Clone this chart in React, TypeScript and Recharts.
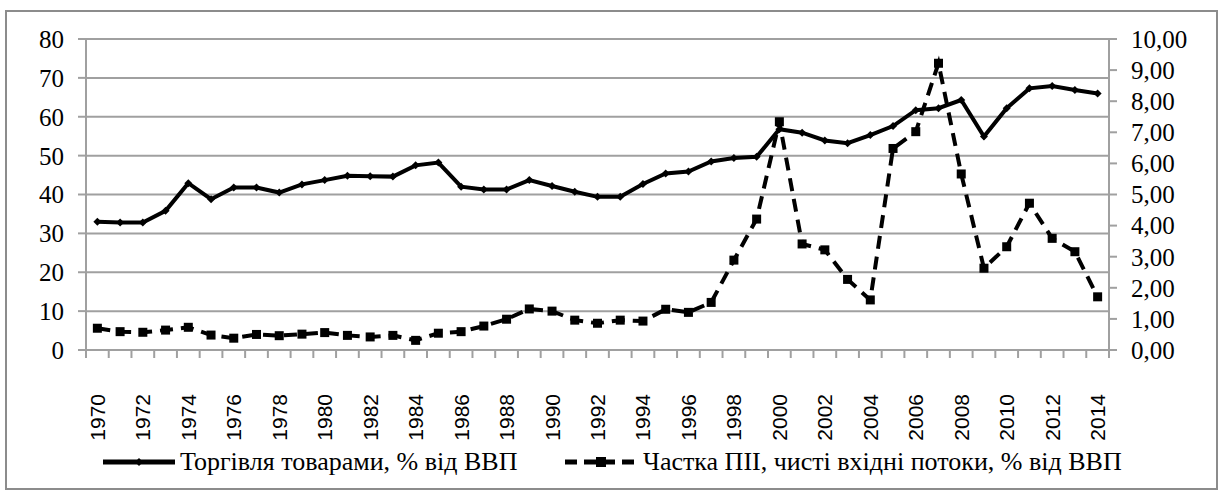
import React from 'react';
import { LineChart, Line, XAxis, YAxis, CartesianGrid } from 'recharts';

const years = [
  '1970', '1971', '1972', '1973', '1974', '1975', '1976', '1977', '1978', '1979',
  '1980', '1981', '1982', '1983', '1984', '1985', '1986', '1987', '1988', '1989',
  '1990', '1991', '1992', '1993', '1994', '1995', '1996', '1997', '1998', '1999',
  '2000', '2001', '2002', '2003', '2004', '2005', '2006', '2007', '2008', '2009',
  '2010', '2011', '2012', '2013', '2014',
];

// торгівля товарами, % від ВВП (ліва вісь)
const trade = [
  33.0, 32.8, 32.8, 35.8, 42.9, 38.8, 41.8, 41.8, 40.5, 42.6,
  43.7, 44.8, 44.7, 44.6, 47.5, 48.2, 42.0, 41.3, 41.3, 43.7,
  42.2, 40.7, 39.4, 39.4, 42.7, 45.4, 45.9, 48.5, 49.4, 49.7,
  56.8, 55.9, 53.9, 53.2, 55.3, 57.6, 61.7, 62.2, 64.3, 54.9,
  62.2, 67.3, 67.9, 66.9, 66.0,
];

// частка ПІІ, % від ВВП (права вісь)
const fdi = [
  0.70, 0.59, 0.57, 0.64, 0.73, 0.48, 0.38, 0.50, 0.46, 0.51,
  0.56, 0.47, 0.42, 0.47, 0.31, 0.54, 0.59, 0.77, 0.99, 1.32,
  1.25, 0.96, 0.86, 0.96, 0.93, 1.31, 1.21, 1.53, 2.89, 4.21,
  7.34, 3.41, 3.22, 2.27, 1.61, 6.48, 7.02, 9.22, 5.66, 2.63,
  3.32, 4.72, 3.59, 3.16, 1.71,
];

const leftTicks = [0, 10, 20, 30, 40, 50, 60, 70, 80];
const rightTicks = [0, 1, 2, 3, 4, 5, 6, 7, 8, 9, 10];

const tradeLabel = 'Торгівля товарами, % від ВВП';
const fdiLabel = 'Частка ПІІ, чисті вхідні потоки, % від ВВП';

const data = years.map((year, i) => ({ year, trade: trade[i], fdi: fdi[i] }));

const W = 1221;
const H = 492;
const PLOT_LEFT = 86;
const PLOT_RIGHT = 1109;
const BAND = (PLOT_RIGHT - PLOT_LEFT) / years.length;
const GRID = '#a0a0a0';
const SERIF = 'Liberation Serif';
const SANS = 'Liberation Sans';

const fmtRight = (v: number) => v.toFixed(2).replace('.', ',');

function XTick(props: any) {
  const { x, y, payload, index } = props;
  const half = BAND / 2;
  return (
    <g>
      <line x1={x - half} x2={x - half} y1={y} y2={y + 8} stroke={GRID} strokeWidth={2} />
      {index === years.length - 1 && (
        <line x1={x + half} x2={x + half} y1={y} y2={y + 8} stroke={GRID} strokeWidth={2} />
      )}
      {index % 2 === 0 && (
        <text
          transform={`translate(${x + 7.5},${y + 44}) rotate(-90)`}
          textAnchor="end"
          fontFamily={SANS}
          fontSize={21}
          fill="#000"
        >
          {payload.value}
        </text>
      )}
    </g>
  );
}

function Diamond(props: any) {
  const { cx, cy } = props;
  if (cx == null || cy == null) return null;
  const s = 4;
  return <path d={`M${cx},${cy - s}L${cx + s},${cy}L${cx},${cy + s}L${cx - s},${cy}Z`} fill="#000" />;
}

function Square(props: any) {
  const { cx, cy } = props;
  if (cx == null || cy == null) return null;
  const s = 4.5;
  return <rect x={cx - s} y={cy - s} width={s * 2} height={s * 2} fill="#000" />;
}

const legendText: React.CSSProperties = {
  position: 'absolute',
  top: 447,
  fontFamily: SERIF,
  fontSize: 26,
  lineHeight: '30px',
  whiteSpace: 'nowrap',
  color: '#000',
};

export default function App() {
  return (
    <div style={{ position: 'absolute', left: 0, top: 0, width: W, height: H, background: '#fff', fontFamily: SERIF }}>
      <div
        style={{
          position: 'absolute',
          left: 5,
          top: 10,
          width: 1213,
          height: 480,
          border: '2px solid #8c8c8c',
          boxSizing: 'border-box',
        }}
      />
      <LineChart
        width={W}
        height={H}
        data={data}
        margin={{ top: 39, right: 0, bottom: 72, left: 0 }}
        style={{ position: 'absolute', left: 0, top: 0 }}
      >
        <CartesianGrid yAxisId="left" vertical={false} stroke={GRID} strokeWidth={2} />
        <XAxis
          dataKey="year"
          interval={0}
          height={70}
          padding={{ left: BAND / 2, right: BAND / 2 }}
          tickLine={false}
          tickSize={0}
          tickMargin={0}
          axisLine={{ stroke: GRID, strokeWidth: 2 }}
          tick={<XTick />}
        />
        <YAxis
          yAxisId="left"
          width={PLOT_LEFT}
          domain={[0, 80]}
          ticks={leftTicks}
          interval={0}
          tickSize={8}
          tickMargin={14}
          axisLine={{ stroke: GRID, strokeWidth: 2 }}
          tickLine={{ stroke: GRID, strokeWidth: 2 }}
          tick={{ fill: '#000', fontSize: 25, fontFamily: SERIF }}
        />
        <YAxis
          yAxisId="right"
          orientation="right"
          width={W - PLOT_RIGHT}
          domain={[0, 10]}
          ticks={rightTicks}
          interval={0}
          tickSize={8}
          tickMargin={14}
          tickFormatter={fmtRight}
          axisLine={{ stroke: GRID, strokeWidth: 2 }}
          tickLine={{ stroke: GRID, strokeWidth: 2 }}
          tick={{ fill: '#000', fontSize: 25, fontFamily: SERIF }}
        />
        <Line
          yAxisId="left"
          type="linear"
          dataKey="trade"
          stroke="#000"
          strokeWidth={4}
          dot={<Diamond />}
          activeDot={false}
          isAnimationActive={false}
        />
        <Line
          yAxisId="right"
          type="linear"
          dataKey="fdi"
          stroke="#000"
          strokeWidth={4}
          strokeDasharray="13 8"
          dot={<Square />}
          activeDot={false}
          isAnimationActive={false}
        />
      </LineChart>

      <svg style={{ position: 'absolute', left: 103, top: 452 }} width={72} height={20}>
        <line x1={0} x2={72} y1={10} y2={10} stroke="#000" strokeWidth={5} />
        <path d="M36,6L40,10L36,14L32,10Z" fill="#000" />
      </svg>
      <div style={{ ...legendText, left: 180 }}>{tradeLabel}</div>

      <svg style={{ position: 'absolute', left: 565, top: 452 }} width={74} height={20}>
        <line x1={0} x2={72} y1={10} y2={10} stroke="#000" strokeWidth={5} strokeDasharray="12 7" />
        <rect x={31} y={5} width={10} height={10} fill="#000" />
      </svg>
      <div style={{ ...legendText, left: 643 }}>{fdiLabel}</div>
    </div>
  );
}
